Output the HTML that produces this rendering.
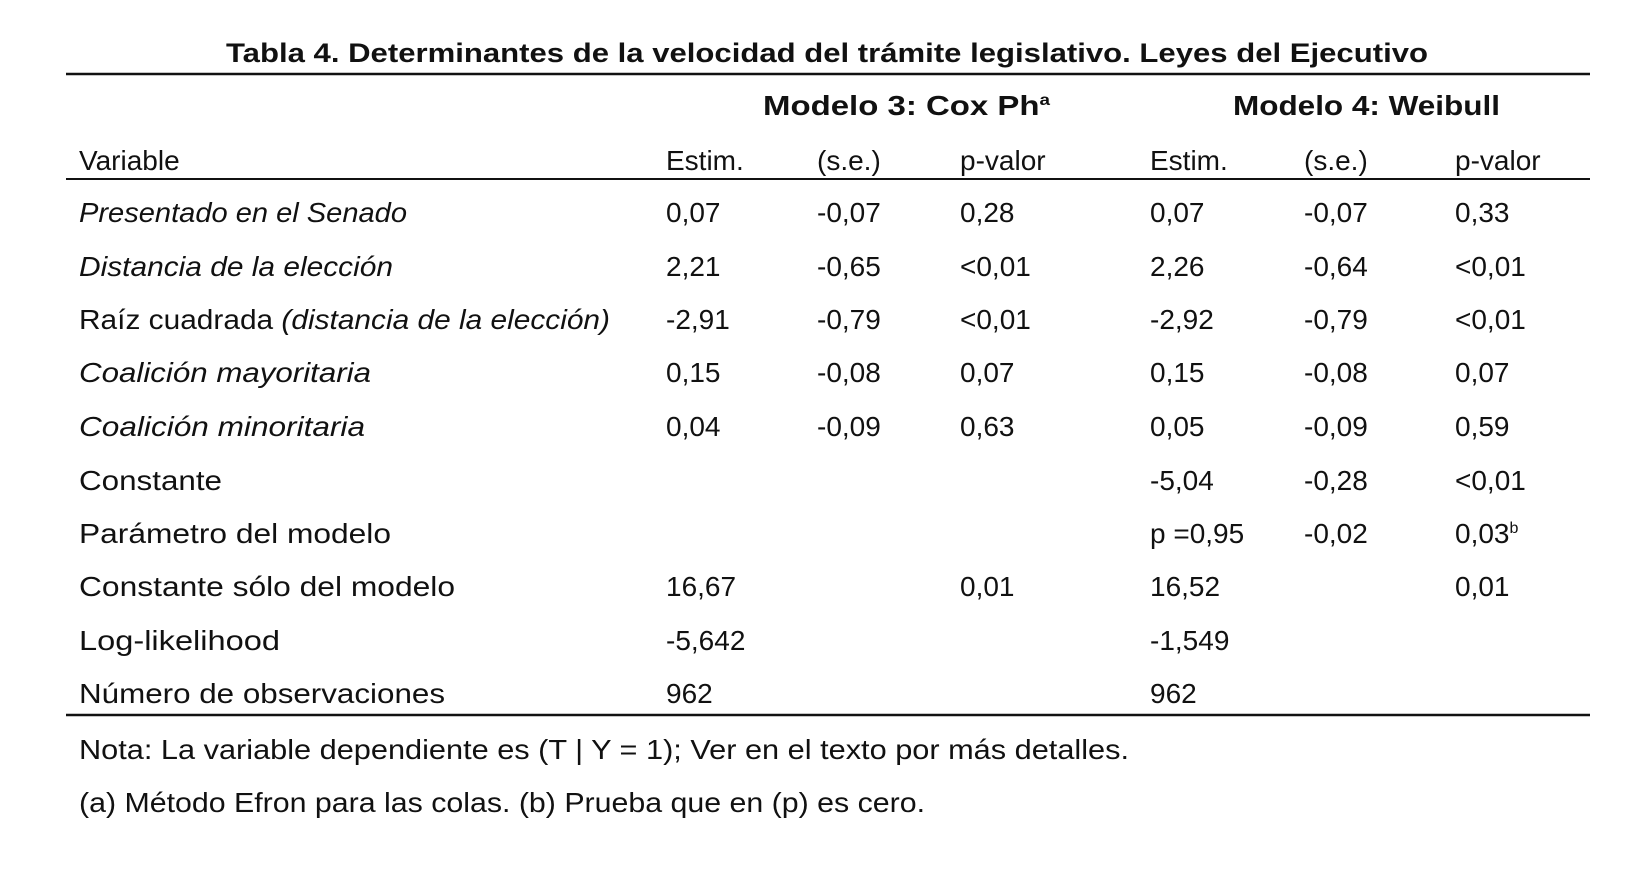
<!DOCTYPE html>
<html><head><meta charset="utf-8"><style>
html,body{margin:0;padding:0;background:#fff;}
svg{display:block;}
text{font-family:"Liberation Sans",sans-serif;font-size:28px;fill:#111;}
.b{font-weight:bold;}
.i{font-style:italic;}
</style></head><body>
<svg width="1641" height="882" viewBox="0 0 1641 882">
<text x="226" y="62" class="b" textLength="1202" lengthAdjust="spacingAndGlyphs" style="font-size:27px">Tabla 4. Determinantes de la velocidad del trámite legislativo. Leyes del Ejecutivo</text>
<line x1="66" y1="74" x2="1590" y2="74" stroke="#111" stroke-width="2.5"/>
<text x="763" y="115" class="b" textLength="287" lengthAdjust="spacingAndGlyphs">Modelo 3: Cox Ph<tspan style="font-size:16px" dy="-10">a</tspan></text>
<text x="1233" y="115" class="b" textLength="267" lengthAdjust="spacingAndGlyphs">Modelo 4: Weibull</text>
<g>
<text x="79" y="170">Variable</text>
<text x="666" y="170">Estim.</text><text x="817" y="170">(s.e.)</text><text x="960" y="170">p-valor</text>
<text x="1150" y="170">Estim.</text><text x="1304" y="170">(s.e.)</text><text x="1455" y="170">p-valor</text>
</g>
<line x1="66" y1="179" x2="1590" y2="179" stroke="#111" stroke-width="2"/>
<g>
<text x="79" y="222" class="i" textLength="328" lengthAdjust="spacingAndGlyphs">Presentado en el Senado</text>
<text x="666" y="222">0,07</text><text x="817" y="222">-0,07</text><text x="960" y="222">0,28</text><text x="1150" y="222">0,07</text><text x="1304" y="222">-0,07</text><text x="1455" y="222">0,33</text>

<text x="79" y="276" class="i" textLength="314" lengthAdjust="spacingAndGlyphs">Distancia de la elección</text>
<text x="666" y="276">2,21</text><text x="817" y="276">-0,65</text><text x="960" y="276">&lt;0,01</text><text x="1150" y="276">2,26</text><text x="1304" y="276">-0,64</text><text x="1455" y="276">&lt;0,01</text>

<text x="79" y="329" textLength="531" lengthAdjust="spacingAndGlyphs">Raíz cuadrada <tspan class="i">(distancia de la elección)</tspan></text>
<text x="666" y="329">-2,91</text><text x="817" y="329">-0,79</text><text x="960" y="329">&lt;0,01</text><text x="1150" y="329">-2,92</text><text x="1304" y="329">-0,79</text><text x="1455" y="329">&lt;0,01</text>

<text x="79" y="382" class="i" textLength="292" lengthAdjust="spacingAndGlyphs">Coalición mayoritaria</text>
<text x="666" y="382">0,15</text><text x="817" y="382">-0,08</text><text x="960" y="382">0,07</text><text x="1150" y="382">0,15</text><text x="1304" y="382">-0,08</text><text x="1455" y="382">0,07</text>

<text x="79" y="436" class="i" textLength="286" lengthAdjust="spacingAndGlyphs">Coalición minoritaria</text>
<text x="666" y="436">0,04</text><text x="817" y="436">-0,09</text><text x="960" y="436">0,63</text><text x="1150" y="436">0,05</text><text x="1304" y="436">-0,09</text><text x="1455" y="436">0,59</text>

<text x="79" y="490" textLength="143" lengthAdjust="spacingAndGlyphs">Constante</text>
<text x="1150" y="490">-5,04</text><text x="1304" y="490">-0,28</text><text x="1455" y="490">&lt;0,01</text>

<text x="79" y="543" textLength="312" lengthAdjust="spacingAndGlyphs">Parámetro del modelo</text>
<text x="1150" y="543">p =0,95</text><text x="1304" y="543">-0,02</text><text x="1455" y="543">0,03<tspan style="font-size:16px" dy="-10">b</tspan></text>

<text x="79" y="596" textLength="376" lengthAdjust="spacingAndGlyphs">Constante sólo del modelo</text>
<text x="666" y="596">16,67</text><text x="960" y="596">0,01</text><text x="1150" y="596">16,52</text><text x="1455" y="596">0,01</text>

<text x="79" y="650" textLength="201" lengthAdjust="spacingAndGlyphs">Log-likelihood</text>
<text x="666" y="650">-5,642</text><text x="1150" y="650">-1,549</text>

<text x="79" y="703" textLength="366" lengthAdjust="spacingAndGlyphs">Número de observaciones</text>
<text x="666" y="703">962</text><text x="1150" y="703">962</text>
</g>
<line x1="66" y1="715" x2="1590" y2="715" stroke="#111" stroke-width="2.5"/>
<text x="79" y="759" textLength="1050" lengthAdjust="spacingAndGlyphs">Nota: La variable dependiente es (T | Y = 1); Ver en el texto por más detalles.</text>
<text x="79" y="812" textLength="846" lengthAdjust="spacingAndGlyphs">(a) Método Efron para las colas. (b) Prueba que en (p) es cero.</text>
</svg>
</body></html>
